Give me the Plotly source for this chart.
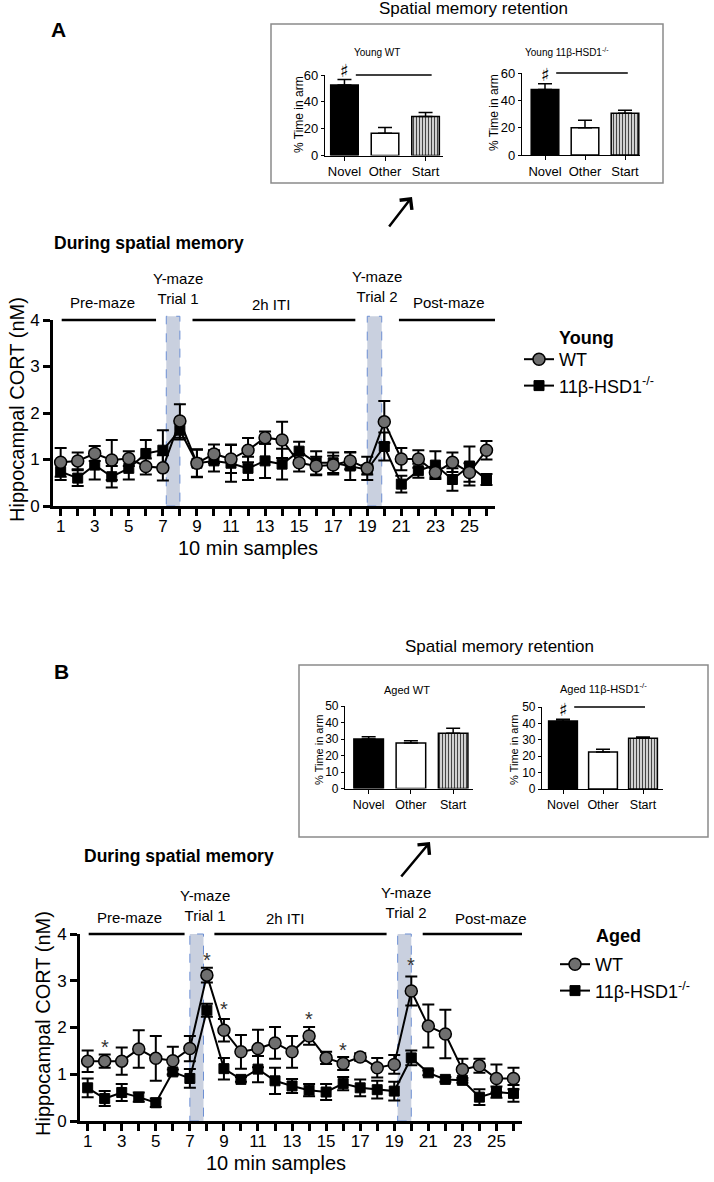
import plotly.graph_objects as go

W, H = 714, 1182
def fx(p): return p / W
def fy(p): return 1 - p / H

FONT = "Liberation Sans, Arial, sans-serif"

# ---------------- data ----------------
samples = list(range(1, 27))
tick_labels = [str(s) if s % 2 else "" for s in samples]

young_wt = [0.94, 0.97, 1.13, 0.99, 1.02, 0.85, 0.82, 1.83, 0.92, 1.12, 1.01, 1.20, 1.47,
            1.42, 0.93, 0.86, 0.88, 0.97, 0.81, 1.81, 1.01, 1.01, 0.72, 0.94, 0.72, 1.20]
young_wt_sem = [0.31, 0.18, 0.16, 0.43, 0.16, 0.17, 0.27, 0.36, 0.29, 0.20, 0.30, 0.26, 0.13,
                0.39, 0.19, 0.20, 0.20, 0.18, 0.25, 0.45, 0.24, 0.19, 0.10, 0.21, 0.20, 0.20]
young_ko = [0.74, 0.60, 0.88, 0.63, 0.81, 1.13, 1.20, 1.63, 0.92, 0.97, 0.92, 0.81, 0.97,
            0.90, 1.18, 0.93, 0.93, 0.86, 0.78, 1.28, 0.47, 0.76, 0.88, 0.57, 0.86, 0.57]
young_ko_sem = [0.18, 0.17, 0.31, 0.23, 0.24, 0.29, 0.43, 0.20, 0.30, 0.23, 0.40, 0.25, 0.37,
                0.33, 0.20, 0.25, 0.22, 0.30, 0.10, 0.30, 0.18, 0.15, 0.30, 0.24, 0.42, 0.12]

aged_wt = [1.28, 1.28, 1.28, 1.54, 1.34, 1.29, 1.55, 3.12, 1.94, 1.48, 1.55, 1.67, 1.48,
           1.82, 1.35, 1.23, 1.37, 1.14, 1.21, 2.78, 2.03, 1.86, 1.10, 1.18, 0.91, 0.91]
aged_wt_sem = [0.23, 0.14, 0.29, 0.40, 0.48, 0.30, 0.27, 0.16, 0.24, 0.36, 0.40, 0.34, 0.34,
               0.19, 0.13, 0.14, 0.08, 0.21, 0.20, 0.31, 0.46, 0.52, 0.23, 0.15, 0.30, 0.23]
aged_ko = [0.71, 0.48, 0.61, 0.51, 0.39, 1.05, 0.91, 2.37, 1.12, 0.89, 1.11, 0.86, 0.75,
           0.66, 0.62, 0.80, 0.71, 0.67, 0.64, 1.35, 1.03, 0.89, 0.87, 0.51, 0.62, 0.59]
aged_ko_sem = [0.20, 0.16, 0.18, 0.10, 0.09, 0.05, 0.20, 0.14, 0.23, 0.05, 0.28, 0.28, 0.15,
               0.13, 0.17, 0.14, 0.18, 0.19, 0.20, 0.16, 0.05, 0.05, 0.05, 0.17, 0.12, 0.18]

aged_star_samples = [2, 8, 9, 14, 16, 20]
aged_star_y = [1.69, 3.55, 2.50, 2.29, 1.62, 3.44]

arms = ["Novel", "Other", "Start"]
young_wt_arm = [52.5, 16.5, 29.0]
young_wt_arm_sem = [4.2, 4.4, 3.0]
young_ko_arm = [48.0, 20.0, 30.5]
young_ko_arm_sem = [4.2, 5.4, 2.2]
aged_wt_arm = [30.0, 27.5, 33.5]
aged_wt_arm_sem = [1.3, 1.5, 3.0]
aged_ko_arm = [41.5, 22.5, 31.0]
aged_ko_arm_sem = [1.0, 1.8, 0.7]

phase_names = ["Pre-maze", "Y-maze<br>Trial 1", "2h ITI", "Y-maze<br>Trial 2", "Post-maze"]
young_phase_spans = [(1.06, 6.6), (8.74, 18.3), (20.86, 26.5)]
aged_phase_spans = [(1.06, 6.69), (8.44, 18.55), (20.67, 26.5)]
young_maze_windows = [(7.2, 8.0), (19.0, 19.85)]
aged_maze_windows = [(7.0, 7.8), (19.2, 20.0)]

# ---------------- figure ----------------
fig = go.Figure()

def add_main(xa, ya, wt, wt_sem, ko, ko_sem, legend):
    fig.add_trace(go.Scatter(
        x=samples, y=ko, mode="lines+markers", xaxis=xa, yaxis=ya,
        name="11β-HSD1<sup>-/-</sup>", legend=legend, legendrank=2,
        line=dict(color="black", width=2),
        marker=dict(symbol="square", size=10, color="black", line=dict(color="black", width=1)),
        error_y=dict(type="data", array=ko_sem, color="black", thickness=2, width=6)))
    fig.add_trace(go.Scatter(
        x=samples, y=wt, mode="lines+markers", xaxis=xa, yaxis=ya,
        name="WT", legend=legend, legendrank=1,
        line=dict(color="black", width=2),
        marker=dict(symbol="circle", size=12, color="#6f6f6f", line=dict(color="black", width=1.5)),
        error_y=dict(type="data", array=wt_sem, color="black", thickness=2, width=6)))

add_main("x", "y", young_wt, young_wt_sem, young_ko, young_ko_sem, "legend")
add_main("x2", "y2", aged_wt, aged_wt_sem, aged_ko, aged_ko_sem, "legend2")

def add_bars(xa, ya, vals, sems, bw):
    fig.add_trace(go.Bar(
        x=arms, y=vals, width=bw, xaxis=xa, yaxis=ya, showlegend=False,
        marker=dict(color=["black", "white", "white"], line=dict(color="black", width=1.5),
                    pattern=dict(shape=["", "", "|"], fillmode="overlay", fgcolor="black",
                                 fgopacity=1, size=3, solidity=0.5)),
        error_y=dict(type="data", array=sems, arrayminus=[0, 0, 0], symmetric=False,
                     color="black", thickness=1.5, width=7)))

add_bars("x3", "y3", young_wt_arm, young_wt_arm_sem, 0.68)
add_bars("x4", "y4", young_ko_arm, young_ko_arm_sem, 0.69)
add_bars("x5", "y5", aged_wt_arm, aged_wt_arm_sem, 0.70)
add_bars("x6", "y6", aged_ko_arm, aged_ko_arm_sem, 0.72)

tf = dict(family=FONT, size=17, color="black")

def main_x(dom, anchor):
    return dict(domain=dom, anchor=anchor, range=[0.55, 26.5], tickmode="array",
                tickvals=samples, ticktext=tick_labels, ticks="outside", ticklen=7,
                tickwidth=2.5, tickcolor="black", showline=True, linewidth=3,
                linecolor="black", showgrid=False, zeroline=False, tickfont=tf,
                ticklabelstandoff=-4, automargin=False)

def main_y(dom, anchor):
    return dict(domain=dom, anchor=anchor, range=[0, 4], tickvals=[0, 1, 2, 3, 4],
                ticks="outside", ticklen=7, tickwidth=2.5, tickcolor="black",
                showline=True, linewidth=3, linecolor="black", showgrid=False,
                zeroline=False, tickfont=tf, automargin=False)

def inset_x(dom, anchor, rng, fs):
    return dict(domain=dom, anchor=anchor, type="category", categoryarray=arms,
                range=rng, ticks="outside", ticklen=4, tickwidth=1, tickcolor="black",
                showline=True, linewidth=1.2, linecolor="black", showgrid=False,
                zeroline=False, tickfont=dict(family=FONT, size=fs, color="black"),
                automargin=False)

def inset_y(dom, anchor, top, step, fs):
    return dict(domain=dom, anchor=anchor, range=[0, top],
                tickvals=list(range(0, top + 1, step)), ticks="outside", ticklen=3,
                tickwidth=1, tickcolor="black", showline=True, linewidth=1.2,
                linecolor="black", showgrid=False, zeroline=False,
                tickfont=dict(family=FONT, size=fs, color="black"), automargin=False)

fig.update_layout(
    template="none",
    width=W, height=H, autosize=False,
    margin=dict(l=0, r=0, t=0, b=0, pad=0, autoexpand=False),
    paper_bgcolor="white", plot_bgcolor="white",
    font=dict(family=FONT, color="black"),
    xaxis=main_x([fx(53), fx(495)], "y"),
    yaxis=main_y([fy(506), fy(320)], "x"),
    xaxis2=main_x([fx(80), fx(522)], "y2"),
    yaxis2=main_y([fy(1121), fy(934)], "x2"),
    xaxis3=inset_x([fx(325), fx(443)], "y3", [-0.48, 2.43], 13),
    yaxis3=inset_y([fy(155.5), fy(75)], "x3", 60, 20, 13),
    xaxis4=inset_x([fx(522), fx(640)], "y4", [-0.575, 2.375], 13),
    yaxis4=inset_y([fy(155), fy(73)], "x4", 60, 20, 13),
    xaxis5=inset_x([fx(345), fx(473)], "y5", [-0.56, 2.47], 12.5),
    yaxis5=inset_y([fy(788.5), fy(706)], "x5", 50, 10, 12),
    xaxis6=inset_x([fx(542), fx(663)], "y6", [-0.525, 2.5], 12.5),
    yaxis6=inset_y([fy(789), fy(707)], "x6", 50, 10, 12),
    legend=dict(x=fx(519), y=fy(341), xanchor="left", yanchor="top",
                font=dict(family=FONT, size=18, color="black"), bgcolor="rgba(0,0,0,0)"),
    legend2=dict(x=fx(555), y=fy(946), xanchor="left", yanchor="top",
                 font=dict(family=FONT, size=18, color="black"), bgcolor="rgba(0,0,0,0)"),
)

shapes = []
annots = []

def txt(x, y, text, size, bold=False, xanchor="center", angle=0, color="black"):
    annots.append(dict(x=fx(x), y=fy(y), xref="paper", yref="paper", text=text,
                       showarrow=False, xanchor=xanchor, yanchor="middle",
                       textangle=angle,
                       font=dict(family=FONT, size=size, color=color,
                                 weight="bold" if bold else "normal")))

# Inset boxes
shapes.append(dict(type="rect", xref="paper", yref="paper", x0=fx(271), x1=fx(663),
                   y0=fy(183), y1=fy(24), line=dict(color="#8a8a8a", width=1.5)))
shapes.append(dict(type="rect", xref="paper", yref="paper", x0=fx(299), x1=fx(708),
                   y0=fy(837), y1=fy(665), line=dict(color="#8a8a8a", width=1.5)))

# maze windows and phase lines
def phases(xa, ya, spans, windows, top_ext):
    for a, b in windows:
        shapes.append(dict(type="rect", xref=xa, yref=ya + " domain", x0=a, x1=b,
                           y0=0, y1=top_ext, layer="below", fillcolor="#c9d0df",
                           line=dict(color="#6d8fd3", width=1, dash="dash")))
    for a, b in spans:
        shapes.append(dict(type="line", xref=xa, yref=ya + " domain", x0=a, x1=b,
                           y0=1, y1=1, line=dict(color="black", width=2.5)))

phases("x", "y", young_phase_spans, young_maze_windows, 1.02)
phases("x2", "y2", aged_phase_spans, aged_maze_windows, 1.0)

def phase_text(xa, positions):
    for name, (xv, py) in zip(phase_names, positions):
        annots.append(dict(x=xv, y=fy(py), xref=xa, yref="paper", text=name,
                           showarrow=False, xanchor="center", yanchor="middle",
                           font=dict(family=FONT, size=15, color="black")))

phase_text("x", [(3.47, 303), (7.9, 288), (13.35, 304), (19.6, 286), (23.8, 303)])
phase_text("x2", [(3.45, 917), (7.9, 905), (12.6, 918), (19.7, 902), (24.7, 918)])

# asterisks
for s, v in zip(aged_star_samples, aged_star_y):
    annots.append(dict(x=s, y=v, xref="x2", yref="y2", text="*", showarrow=False,
                       yshift=-5, font=dict(family=FONT, size=20, color="#333333")))

# sharp signs and comparison lines on insets
def sharp(xa, ya, line_x, top):
    annots.append(dict(x=0, y=top, xref=xa, yref=ya, text="♯", showarrow=False,
                       yanchor="bottom", yshift=-4,
                       font=dict(family="DejaVu Sans", size=18, color="black")))
    shapes.append(dict(type="line", xref=xa, yref=ya + " domain", x0=line_x[0],
                       x1=line_x[1], y0=1, y1=1, line=dict(color="black", width=1.5)))

sharp("x3", "y3", (0.28, 2.15), 56.8)
sharp("x4", "y4", (0.28, 2.07), 52.5)
sharp("x6", "y6", (0.28, 2.05), 43.0)

# texts
txt(58, 30, "A", 21, bold=True)
txt(61, 671, "B", 21, bold=True)
txt(473, 9, "Spatial memory retention", 17)
txt(500, 646, "Spatial memory retention", 17)
txt(52, 243, "During spatial memory", 17.5, bold=True, xanchor="left")
txt(82, 856, "During spatial memory", 17.5, bold=True, xanchor="left")
txt(376.7, 52, "Young WT", 10)
txt(567, 52, "Young 11β-HSD1<sup>-/-</sup>", 10)
txt(407, 690, "Aged WT", 11)
txt(603, 688, "Aged 11β-HSD1<sup>-/-</sup>", 11)
txt(299, 115, "% Time in arm", 12, angle=-90)
txt(494, 113, "% Time in arm", 12, angle=-90)
txt(319, 750, "% Time in arm", 11, angle=-90)
txt(514, 750, "% Time in arm", 11, angle=-90)
txt(17, 410, "Hippocampal CORT (nM)", 20, angle=-90)
txt(43, 1024, "Hippocampal CORT (nM)", 20, angle=-90)
txt(248, 548, "10 min samples", 20)
txt(276, 1163, "10 min samples", 20)
txt(557, 338, "Young", 18, bold=True, xanchor="left")
txt(594, 936, "Aged", 18, bold=True, xanchor="left")

# arrows
annots.append(dict(x=fx(412), y=fy(197), xref="paper", yref="paper", text="",
                   showarrow=True, ax=-24, ay=31, arrowhead=4, arrowsize=1.2,
                   arrowwidth=2.5, arrowcolor="black"))
annots.append(dict(x=fx(430), y=fy(842), xref="paper", yref="paper", text="",
                   showarrow=True, ax=-30, ay=36, arrowhead=4, arrowsize=1.2,
                   arrowwidth=2.5, arrowcolor="black"))

fig.update_layout(shapes=shapes, annotations=annots)
fig.write_html("out.html",
               config={"displayModeBar": False},
               post_script="document.body.style.margin='0';"
                           "document.documentElement.style.overflow='hidden';")
